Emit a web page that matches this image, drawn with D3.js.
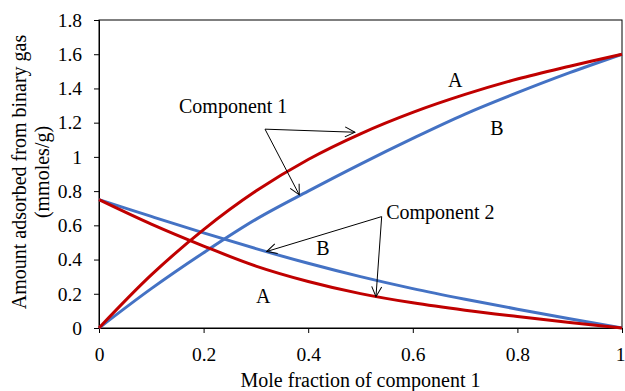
<!DOCTYPE html>
<html>
<head>
<meta charset="utf-8">
<script src="https://cdn.jsdelivr.net/npm/d3@7"></script>
<style>
  body { margin: 0; background: #fff; }
</style>
</head>
<body>
<div id="chart"></div>
<script>
const WIDTH = 625;
const HEIGHT = 391;
const FONT = "'Liberation Serif', 'Times New Roman', 'DejaVu Serif', serif";

const xTicks = [0, 0.2, 0.4, 0.6, 0.8, 1];
const yTicks = [0, 0.2, 0.4, 0.6, 0.8, 1, 1.2, 1.4, 1.6, 1.8];

const moleFraction = [0, 0.1, 0.2, 0.3, 0.4, 0.5, 0.6, 0.7, 0.8, 0.9, 1];
// component 1 adsorbed, models A and B
const comp1A = [0, 0.31, 0.575, 0.80, 0.985, 1.135, 1.26, 1.365, 1.455, 1.53, 1.6];
const comp1B = [0, 0.23, 0.44, 0.635, 0.80, 0.958, 1.108, 1.25, 1.375, 1.492, 1.6];
// component 2 adsorbed
const comp2A = [0.75, 0.607, 0.479, 0.362, 0.272, 0.201, 0.147, 0.104, 0.067, 0.032, 0];
const comp2B = [0.75, 0.652, 0.556, 0.464, 0.378, 0.30, 0.23, 0.168, 0.11, 0.054, 0];

const series = [
  { name: 'comp1B', values: comp1B, color: '#4472C4' },
  { name: 'comp2B', values: comp2B, color: '#4472C4' },
  { name: 'comp1A', values: comp1A, color: '#C00000' },
  { name: 'comp2A', values: comp2A, color: '#C00000' }
];

const margin = { top: 20, right: 3, bottom: 63, left: 99 };
const innerW = WIDTH - margin.left - margin.right;
const innerH = HEIGHT - margin.top - margin.bottom;

const x = d3.scaleLinear().domain([0, 1]).range([0, innerW]);
const y = d3.scaleLinear().domain([0, 1.8]).range([innerH, 0]);

const svg = d3.select('#chart')
  .append('svg')
  .attr('width', WIDTH)
  .attr('height', HEIGHT)
  .style('font-family', FONT);

const g = svg.append('g')
  .attr('transform', `translate(${margin.left},${margin.top})`);

// plot frame
g.append('rect')
  .attr('x', 0).attr('y', 0)
  .attr('width', innerW).attr('height', innerH)
  .attr('fill', 'none')
  .attr('stroke', '#000')
  .attr('stroke-width', 1);

const xAxis = g.append('g')
  .attr('transform', `translate(0,${innerH})`)
  .call(d3.axisBottom(x).tickValues(xTicks).tickFormat(d3.format('')).tickSize(5).tickPadding(14));

const yAxis = g.append('g')
  .call(d3.axisLeft(y).tickValues(yTicks).tickFormat(d3.format('')).tickSize(5).tickPadding(12));

[xAxis, yAxis].forEach(a => {
  a.attr('font-family', null).attr('font-size', null);
  a.select('.domain').attr('stroke', '#000');
  a.selectAll('.tick line').attr('stroke', '#000');
  a.selectAll('.tick text')
    .attr('fill', '#000')
    .style('font-family', FONT)
    .style('font-size', '19.5px');
});

// last x label sits on the right edge, pull it in a little
xAxis.selectAll('.tick text').filter(d => d === 1).attr('dx', -2);

const line = d3.line()
  .x((d, i) => x(moleFraction[i]))
  .y(d => y(d))
  .curve(d3.curveCatmullRom);

g.selectAll('.series')
  .data(series)
  .join('path')
  .attr('class', 'series')
  .attr('fill', 'none')
  .attr('stroke', d => d.color)
  .attr('stroke-width', 3)
  .attr('d', d => line(d.values));

function txt(sel) {
  return sel.style('font-family', FONT).style('font-size', '20px').attr('fill', '#000');
}

// axis titles
svg.append('text')
  .attr('x', margin.left + innerW / 2)
  .attr('y', 387)
  .attr('text-anchor', 'middle')
  .call(txt)
  .text('Mole fraction of component 1');

const yTitle = svg.append('text')
  .attr('transform', `translate(26,${margin.top + innerH / 2 - 2}) rotate(-90)`)
  .attr('text-anchor', 'middle')
  .call(txt);
yTitle.append('tspan').attr('x', 0).attr('dy', 0).text('Amount adsorbed from binary gas');
yTitle.append('tspan').attr('x', 0).attr('dy', 23).text('(mmoles/g)');

// annotations (data coordinates)
const labels = [
  { text: 'A', xv: 0.681, yv: 1.409 },
  { text: 'B', xv: 0.761, yv: 1.128 },
  { text: 'B', xv: 0.428, yv: 0.428 },
  { text: 'A', xv: 0.314, yv: 0.148 }
];
g.selectAll('.lbl')
  .data(labels)
  .join('text')
  .attr('class', 'lbl')
  .attr('x', d => x(d.xv))
  .attr('y', d => y(d.yv))
  .attr('text-anchor', 'middle')
  .call(txt)
  .text(d => d.text);

const callouts = [
  { text: 'Component 1', tx: 0.153, ty: 1.257, from: [0.3174, 1.162], to: [[0.4895, 1.144], [0.383, 0.778]] },
  { text: 'Component 2', tx: 0.549, ty: 0.638, from: [0.5405, 0.651], to: [[0.3206, 0.447], [0.5296, 0.183]] }
];

const defs = svg.append('defs');
defs.append('marker')
  .attr('id', 'arrow')
  .attr('viewBox', '0 0 12 12')
  .attr('refX', 11).attr('refY', 6)
  .attr('markerWidth', 12).attr('markerHeight', 12)
  .attr('markerUnits', 'userSpaceOnUse')
  .attr('orient', 'auto')
  .append('path')
  .attr('d', 'M1,1 L11,6 L1,11')
  .attr('fill', 'none')
  .attr('stroke', '#000')
  .attr('stroke-width', 1);

callouts.forEach(c => {
  g.append('text')
    .attr('x', x(c.tx))
    .attr('y', y(c.ty))
    .call(txt)
    .text(c.text);
  c.to.forEach(t => {
    g.append('line')
      .attr('x1', x(c.from[0])).attr('y1', y(c.from[1]))
      .attr('x2', x(t[0])).attr('y2', y(t[1]))
      .attr('stroke', '#000')
      .attr('stroke-width', 1)
      .attr('marker-end', 'url(#arrow)');
  });
});
</script>
</body>
</html>
